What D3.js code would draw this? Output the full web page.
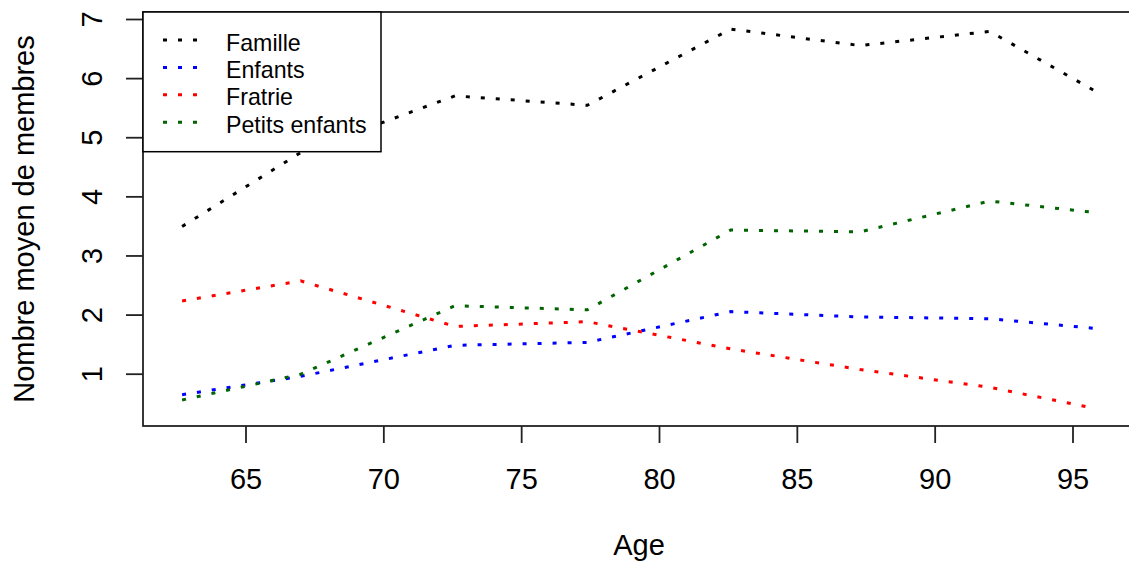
<!DOCTYPE html>
<html>
<head>
<meta charset="utf-8">
<script src="https://cdn.jsdelivr.net/npm/d3@7"></script>
<style>
  body { margin: 0; background: #fff; }
  svg { display: block; font-family: "Liberation Sans", Arial, sans-serif; }
</style>
</head>
<body>
<div id="chart"></div>
<script>
// ages (class midpoints) and mean number of members per category
const ages = [62.7, 67.0, 72.6, 77.4, 82.6, 87.3, 92.0, 95.75]
const famille = [3.49, 4.74, 5.70, 5.54, 6.83, 6.55, 6.79, 5.80]
const enfants = [0.645, 0.955, 1.48, 1.53, 2.05, 1.96, 1.93, 1.77]
const fratrie = [2.23, 2.57, 1.80, 1.88, 1.42, 1.07, 0.77, 0.42]
const petitsEnfants = [0.555, 0.99, 2.15, 2.08, 3.43, 3.40, 3.92, 3.73]

const seriesNames = ["Famille", "Enfants", "Fratrie", "Petits enfants"]
const seriesColors = ["#000000", "#0000ff", "#ff0000", "#006400"]
const seriesValues = [famille, enfants, fratrie, petitsEnfants]

const xTicks = [65, 70, 75, 80, 85, 90, 95]
const yTicks = [1, 2, 3, 4, 5, 6, 7]

const width = 1129, height = 562
const box = {left: 143, right: 1135, top: 12, bottom: 426}
const fontSize = 29

const x = d3.scaleLinear().domain([65, 95]).range([245.5, 1072.5])
const y = d3.scaleLinear().domain([1, 7]).range([373.7, 19])

const svg = d3.select("#chart").append("svg")
    .attr("width", width)
    .attr("height", height)
    .attr("viewBox", [0, 0, width, height])

// x axis
const xAxis = svg.append("g")
    .attr("transform", `translate(0,${box.bottom})`)
    .call(d3.axisBottom(x).tickValues(xTicks).tickFormat(d3.format("d"))
      .tickSize(17).tickPadding(25.4).tickSizeOuter(0))
xAxis.select(".domain").remove()
xAxis.selectAll("line").attr("stroke", "#222").attr("stroke-width", 1.8)
xAxis.selectAll("text")
    .attr("font-size", fontSize)
    .attr("font-family", "Liberation Sans, Arial, sans-serif")
    .attr("fill", "#000")

// y axis, labels parallel to the axis like R
const yAxis = svg.append("g")
    .attr("transform", `translate(${box.left},0)`)
    .call(d3.axisLeft(y).tickValues(yTicks).tickFormat(d3.format("d"))
      .tickSize(17).tickSizeOuter(0))
yAxis.select(".domain").remove()
yAxis.selectAll("line").attr("stroke", "#222").attr("stroke-width", 1.8)
yAxis.selectAll("text")
    .attr("x", 0)
    .attr("dy", 0)
    .attr("text-anchor", "middle")
    .attr("transform", `translate(${101.7 - box.left},0) rotate(-90)`)
    .attr("font-size", fontSize)
    .attr("font-family", "Liberation Sans, Arial, sans-serif")
    .attr("fill", "#000")

// axis titles
svg.append("text")
    .attr("x", (box.left + box.right) / 2)
    .attr("y", 555)
    .attr("text-anchor", "middle")
    .attr("font-size", fontSize)
    .text("Age")

svg.append("text")
    .attr("transform", `translate(33.5,${(box.top + box.bottom) / 2}) rotate(-90)`)
    .attr("text-anchor", "middle")
    .attr("font-size", fontSize)
    .text("Nombre moyen de membres")

// dotted lines
const line = d3.line()
    .x(d => x(d[0]))
    .y(d => y(d[1]))

svg.append("g")
  .selectAll("path")
  .data(seriesValues)
  .join("path")
    .attr("d", vals => line(ages.map((a, i) => [a, vals[i]])))
    .attr("fill", "none")
    .attr("stroke", (d, i) => seriesColors[i])
    .attr("stroke-width", 3)
    .attr("stroke-dasharray", "4 11")

// plot frame
svg.append("rect")
    .attr("x", box.left)
    .attr("y", box.top)
    .attr("width", box.right - box.left)
    .attr("height", box.bottom - box.top)
    .attr("fill", "none")
    .attr("stroke", "#222")
    .attr("stroke-width", 1.8)

// legend
const legend = svg.append("g")
legend.append("rect")
    .attr("x", box.left)
    .attr("y", box.top)
    .attr("width", 381 - box.left)
    .attr("height", 151.7 - box.top)
    .attr("fill", "#fff")
    .attr("stroke", "#000")
    .attr("stroke-width", 1.5)

const rows = legend.selectAll("g.row")
  .data(seriesNames)
  .join("g")
    .attr("class", "row")
    .attr("transform", (d, i) => `translate(0,${40 + i * 27.4})`)

rows.append("line")
    .attr("x1", 163)
    .attr("x2", 198)
    .attr("stroke", (d, i) => seriesColors[i])
    .attr("stroke-width", 3)
    .attr("stroke-dasharray", "4 11")

rows.append("text")
    .attr("x", 226)
    .attr("y", 10.5)
    .attr("font-size", fontSize * 0.8)
    .text(d => d)
</script>
</body>
</html>
